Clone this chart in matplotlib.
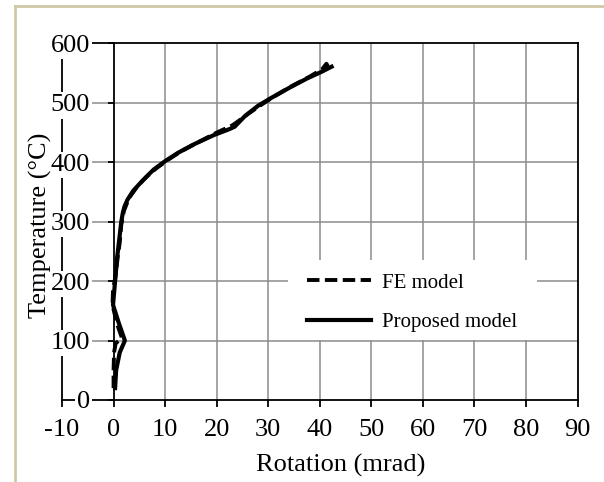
import matplotlib
matplotlib.use("Agg")
import matplotlib.pyplot as plt
from matplotlib.lines import Line2D
from matplotlib.patches import Rectangle

plt.rcParams['font.family'] = ['Liberation Serif', 'DejaVu Serif']

# rotation (mrad) vs temperature (C)
fe_x = [0.0, 0.0, 0.1, 0.4, 1.6, 0.6, -0.2, -0.1, 0.4, 0.8, 1.2, 1.5, 2.0, 3.0,
        4.5, 6.3, 8.3, 10.5, 13.0, 16.0, 20.0, 23.0, 24.0, 26.0, 28.5, 31.0,
        34.5, 38.0, 40.5, 41.3, 41.6, 42.0]
fe_y = [20, 50, 80, 95, 105, 130, 160, 185, 210, 240, 265, 295, 318, 340,
        358, 375, 390, 404, 418, 432, 450, 462, 468, 481, 496, 510,
        528, 544, 557, 566, 561, 562]

prop_x = [0.3, 0.5, 1.2, 2.2, 1.0, -0.1, 0.3, 0.7, 1.1, 1.5, 1.8, 2.1, 2.7,
          3.8, 5.6, 7.8, 10.0, 12.5, 15.5, 19.5, 22.5, 23.5, 25.5, 28.0,
          30.5, 34.0, 37.5, 40.5, 42.3]
prop_y = [20, 50, 80, 100, 130, 160, 200, 240, 270, 300, 315, 325, 337,
          352, 369, 388, 402, 416, 430, 446, 456, 460, 478, 495,
          508, 525, 541, 553, 561]

x_ticks = [-10, 0, 10, 20, 30, 40, 50, 60, 70, 80, 90]
y_ticks = [0, 100, 200, 300, 400, 500, 600]

fig = plt.figure(figsize=(6.04, 4.82), dpi=100)
ax = fig.add_axes([62 / 604, 82 / 482, 515.5 / 604, 356.5 / 482])
ax.set_xlim(-10, 90)
ax.set_ylim(0, 600)

# grid drawn by hand so it stays under the curves
for xv in x_ticks[2:-1]:
    ax.axvline(xv, color='#8c8c8c', lw=1.1, zorder=1)
for yv in y_ticks[1:-1]:
    ax.axhline(yv, color='#8c8c8c', lw=1.1, zorder=1)

# white legend backdrop
ax.add_patch(Rectangle((0.438, 0.168), 0.483, 0.225, transform=ax.transAxes,
                       facecolor='white', edgecolor='none', zorder=1.5))

ax.plot(fe_x, fe_y, color='black', lw=2.8, ls=(0, (3.2, 1.4)),
        label='FE model', zorder=2)
ax.plot(prop_x, prop_y, color='black', lw=3.0, label='Proposed model', zorder=2)

for s in ax.spines.values():
    s.set_linewidth(1.3)
    s.set_color('black')
ax.spines['left'].set_position(('data', 0))
ax.axvline(-10, color='black', lw=1.3, clip_on=False, zorder=2.5)

ax.set_xticks(x_ticks)
ax.set_yticks(y_ticks)
ax.set_xticklabels([str(v) for v in x_ticks])
ax.set_yticklabels([str(v) for v in y_ticks])
ax.tick_params(axis='x', direction='out', length=5, width=1.3, pad=9,
               labelsize=19)
ax.tick_params(axis='y', direction='out', length=4.3, width=1.3, pad=12.5,
               labelsize=19)
ax.yaxis.set_zorder(3)
for lbl in ax.get_yticklabels():
    lbl.set_bbox(dict(facecolor='white', edgecolor='none', pad=1.5))

ax.set_xlabel('Rotation (mrad)', fontsize=19)
ax.xaxis.set_label_coords(0.541, -0.15)
ax.set_ylabel('Temperature (\u00b0C)', fontsize=19)
ax.yaxis.set_label_coords(-0.02, 0.49)

ax.legend(loc='center left', bbox_to_anchor=(0.475, 0.273), frameon=False,
          fontsize=15, handlelength=3.1, handletextpad=0.5, labelspacing=0.95,
          borderpad=0, borderaxespad=0)

# tan page frame on the left and top
fig.add_artist(Line2D([15 / 604, 15 / 604], [0, 476 / 482], color='#cfc7a6', lw=2))
fig.add_artist(Line2D([15 / 604, 1], [476 / 482, 476 / 482], color='#cfc7a6', lw=2))

fig.savefig('out.png', dpi=100)
